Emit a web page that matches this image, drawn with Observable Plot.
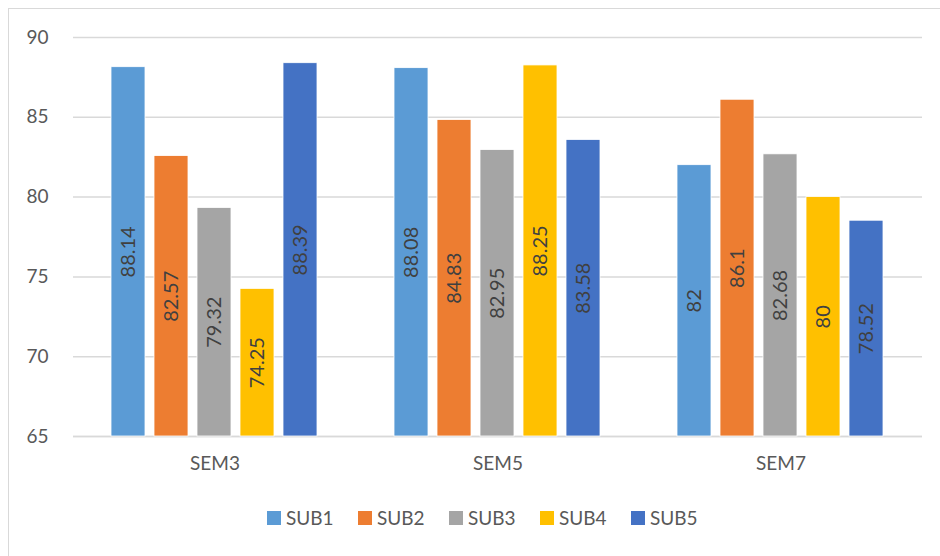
<!DOCTYPE html>
<html>
<head>
<meta charset="utf-8">
<script src="https://cdn.jsdelivr.net/npm/d3@7"></script>
<script src="https://cdn.jsdelivr.net/npm/@observablehq/plot@0.6"></script>
<style>
  html, body { margin: 0; padding: 0; background: #fff; }
  body { width: 940px; height: 556px; position: relative; overflow: hidden; font-family: Lato, "Open Sans", sans-serif; }
  #frame { position: absolute; left: 8px; top: 8px; width: 940px; height: 560px; border: 1px solid #d9d9d9; box-sizing: border-box; }
  #chart { position: absolute; left: 0; top: 0; }
  #legend { position: absolute; left: 267px; top: 506px; display: flex; gap: 0; }
  .item { display: flex; align-items: center; width: 91px; font-size: 19px; color: #595959; }
  .sw { width: 14px; height: 14px; margin-right: 5px; }
</style>
</head>
<body>
<div id="frame"></div>
<div id="chart"></div>
<div id="legend"></div>
<script>
const semesters = ["SEM3", "SEM5", "SEM7"];
const subjects = ["SUB1", "SUB2", "SUB3", "SUB4", "SUB5"];
const colors = ["#5B9BD5", "#ED7D31", "#A5A5A5", "#FFC000", "#4472C4"];
const sem3 = [88.14, 82.57, 79.32, 74.25, 88.39];
const sem5 = [88.08, 84.83, 82.95, 88.25, 83.58];
const sem7 = [82, 86.1, 82.68, 80, 78.52];
const yTicks = [65, 70, 75, 80, 85, 90];

const series = [sem3, sem5, sem7];
const data = [];
semesters.forEach((s, i) => subjects.forEach((sub, j) => data.push({sem: s, sub, value: series[i][j]})));

const yMin = 65;
const chart = Plot.plot({
  width: 940,
  height: 490,
  marginLeft: 72,
  marginRight: 18,
  marginTop: 37,
  marginBottom: 54,
  style: {fontFamily: "Lato, 'Open Sans', sans-serif", fontSize: "18px", color: "#595959", background: "transparent"},
  fx: {domain: semesters, padding: 0, label: null},
  x: {domain: subjects, paddingInner: 0.2, paddingOuter: 0.85, axis: null},
  y: {domain: [65, 90], label: null},
  color: {domain: subjects, range: colors},
  marks: [
    Plot.gridY(yTicks, {stroke: "#d9d9d9", strokeOpacity: 1, strokeWidth: 1.5, facetAnchor: null}),
    Plot.ruleY([65], {stroke: "#d9d9d9", strokeWidth: 1.5}),
    Plot.axisY(yTicks, {tickSize: 0, tickPadding: 25, fontSize: 19, fill: "#595959", label: null}),
    Plot.axisFx({tickSize: 0, tickPadding: 20, fontSize: 19, fill: "#595959", label: null, anchor: "bottom"}),
    Plot.barY(data, {fx: "sem", x: "sub", y1: yMin, y2: "value", fill: "sub", stroke: "#fff", strokeWidth: 0.8}),
    Plot.text(data, {fx: "sem", x: "sub", y: d => (yMin + d.value) / 2, text: d => String(d.value), rotate: -90, fill: "#404040", fontSize: 20})
  ]
});
document.getElementById("chart").appendChild(chart);

const legend = document.getElementById("legend");
subjects.forEach((s, i) => {
  const it = document.createElement("div");
  it.className = "item";
  it.innerHTML = `<div class="sw" style="background:${colors[i]}"></div><span>${s}</span>`;
  legend.appendChild(it);
});
</script>
</body>
</html>
